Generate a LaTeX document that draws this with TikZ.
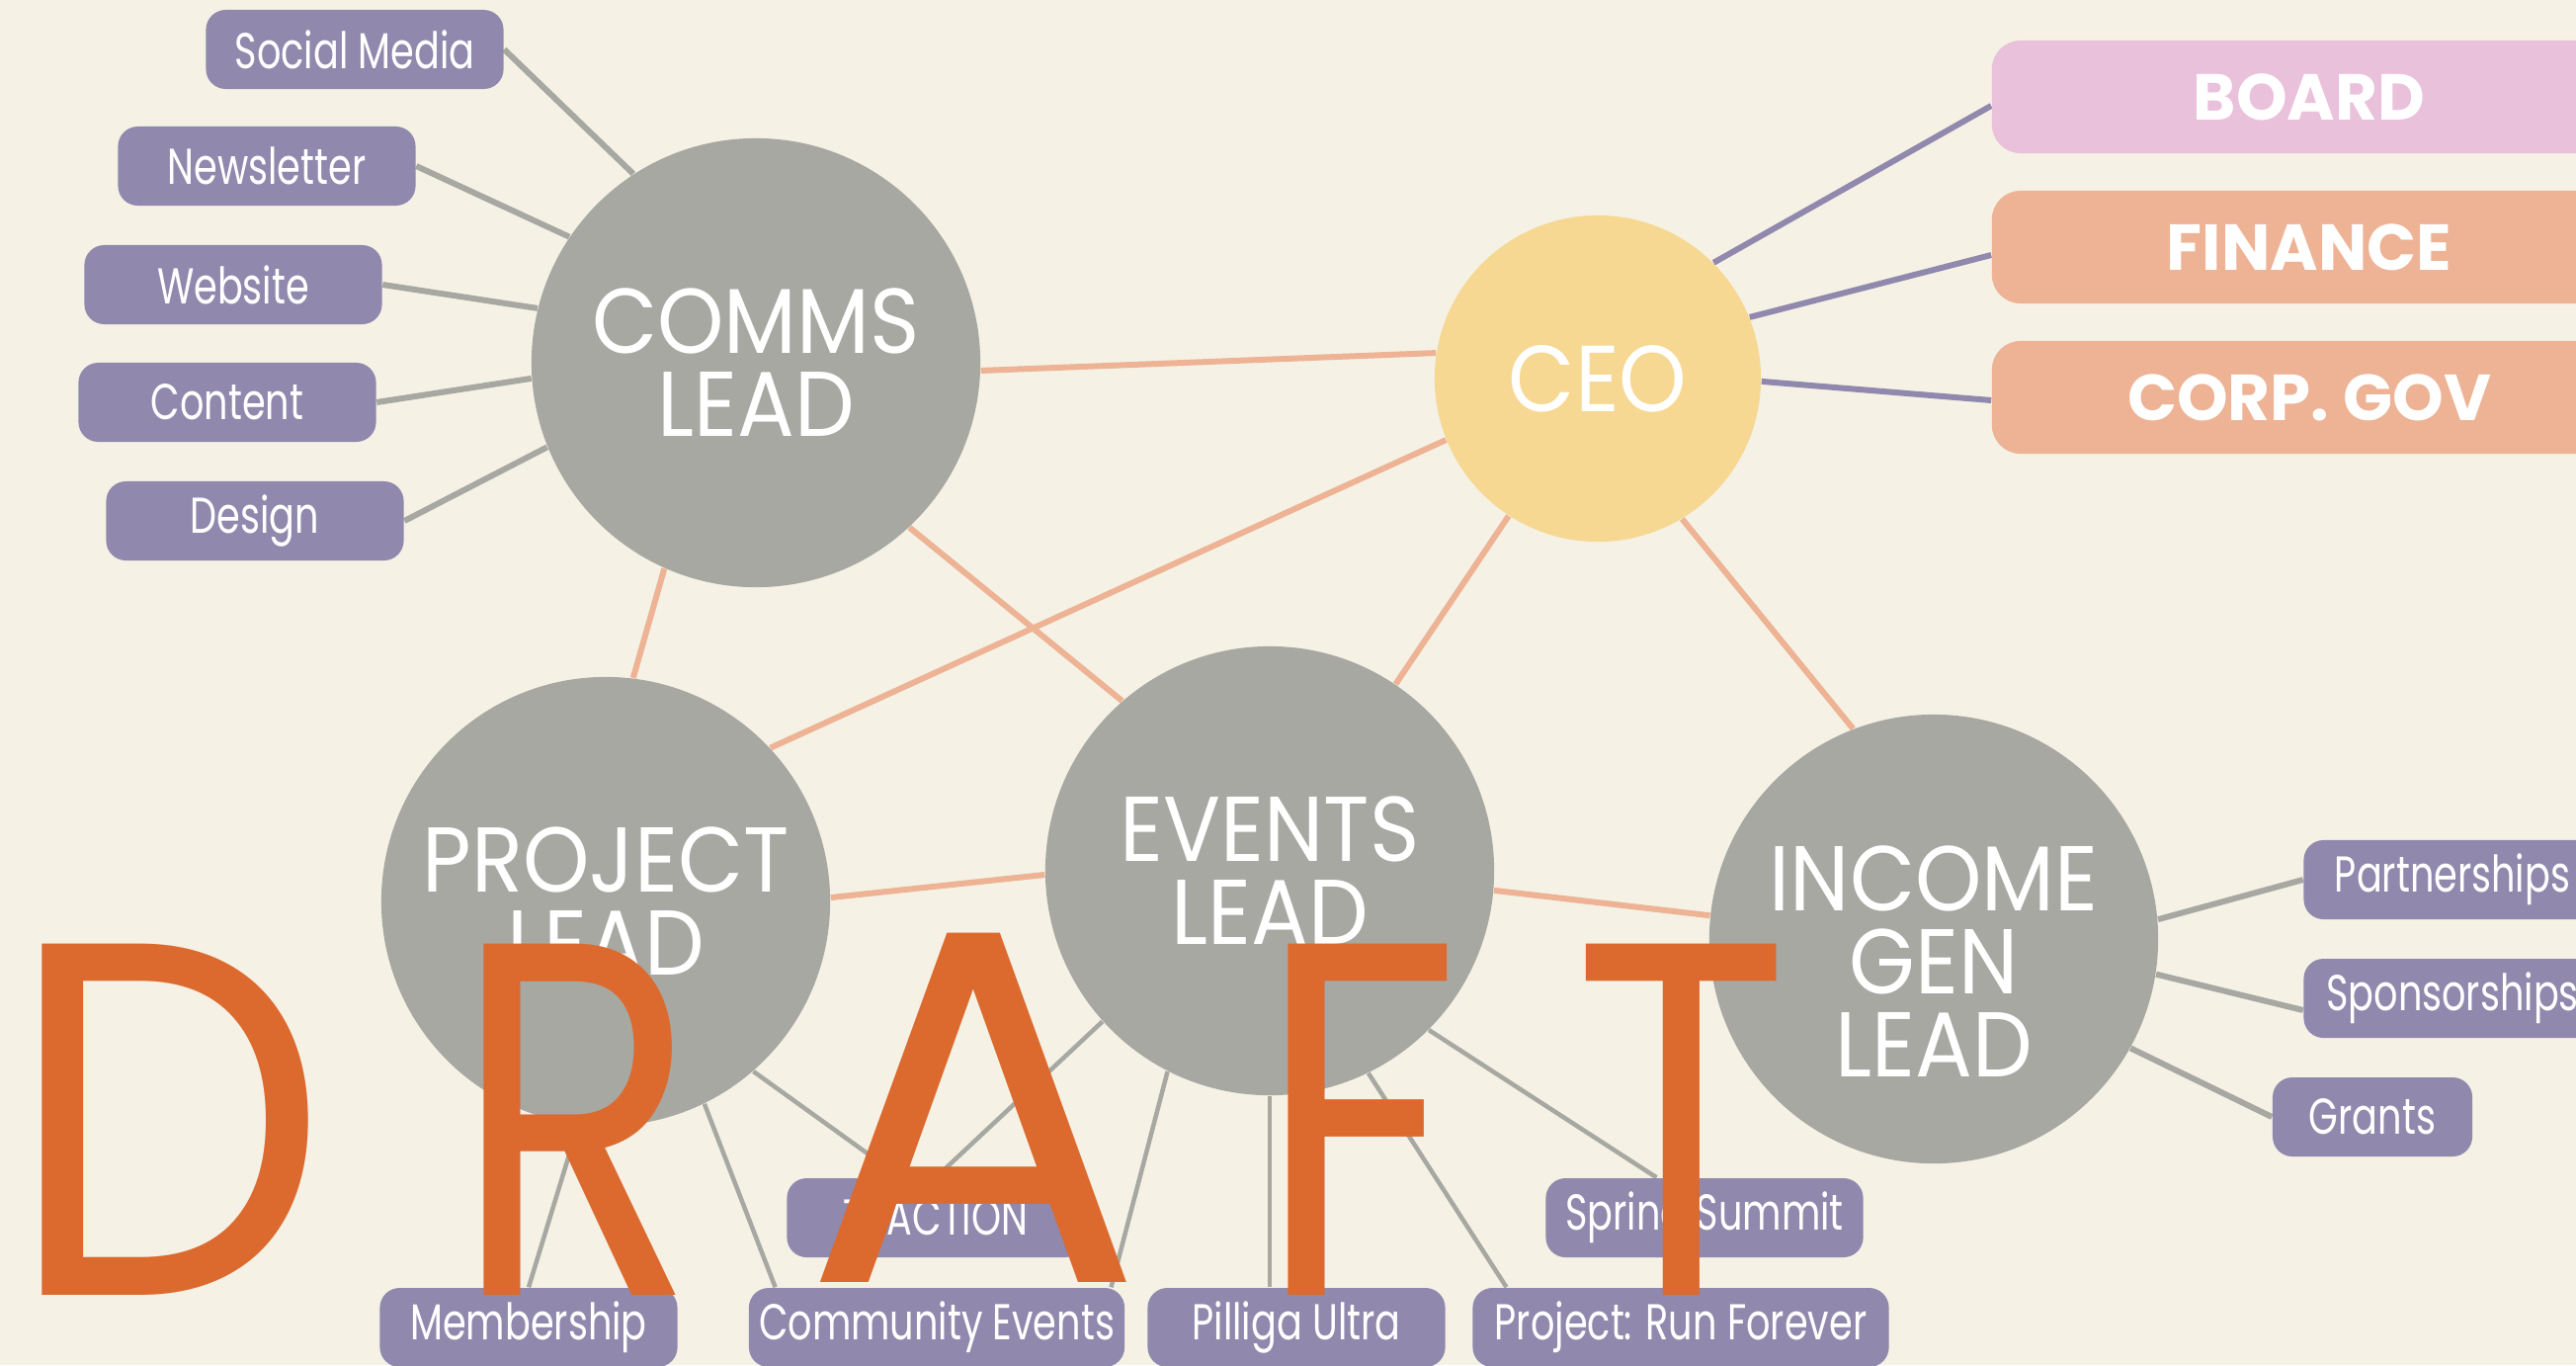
\documentclass[tikz,border=0pt]{standalone}
\usepackage{fontspec}
\setmainfont{Poppins}
\newfontfamily\headfont[FakeStretch=0.92]{Poppins}
\newfontfamily\labelfont[FakeStretch=0.75]{Poppins}
\newfontfamily\draftfont[FakeStretch=0.8]{Poppins}
\newfontfamily\draftroundfont[FakeStretch=0.9]{Poppins}
\usetikzlibrary{positioning,backgrounds}

\definecolor{cream}{HTML}{F5F1E5}
\definecolor{leadgray}{HTML}{A7A8A2}
\definecolor{ceoyellow}{HTML}{F6D892}
\definecolor{taskpurple}{HTML}{9089AD}
\definecolor{boardpink}{HTML}{E9C1DB}
\definecolor{salmon}{HTML}{EDB394}
\definecolor{draftorange}{HTML}{DC6A2F}

\begin{document}
\begin{tikzpicture}[
  x=0.01cm, y=-0.01cm,
  lead/.style={circle, fill=leadgray, minimum size=4.54cm, inner sep=0pt,
               text=white, align=center,
               font=\headfont\fontsize{26.5}{23.9}\selectfont},
  ceobox/.style={circle, fill=ceoyellow, minimum size=3.30cm, inner sep=0pt,
                 text=white, font=\headfont\fontsize{27}{27}\selectfont},
  task/.style={rounded corners=0.2cm, fill=taskpurple, text=white,
               minimum width=3.01cm, minimum height=0.80cm, inner sep=0.08cm,
               font=\labelfont\fontsize{14.5}{16}\selectfont},
  gov/.style={rounded corners=0.29cm, text=white, minimum width=6.42cm,
              minimum height=1.14cm, font=\bfseries\fontsize{18.7}{20}\selectfont},
  leadlink/.style={line width=1.7pt, salmon},
  govlink/.style={line width=1.7pt, taskpurple},
  spoke/.style={line width=1.7pt, leadgray},
  twig/.style={line width=1.28pt, leadgray},
  draft/.style={text=draftorange, inner sep=0pt, anchor=base,
                font=\draftfont\fontsize{145}{145}\selectfont},
]
  \useasboundingbox (0,0) rectangle (2607,1381);

  % leads and ceo
  \node[lead] (comms) at (765,367) {COMMS\\LEAD};
  \node[ceobox] (ceo) at (1617,383) {CEO};
  \node[lead] (project) at (613,912) {PROJECT\\LEAD};
  \node[lead] (events) at (1285,881) {EVENTS\\LEAD};
  \node[lead] (income) at (1957,950) {\rule{0pt}{1.11cm}INCOME\\GEN\\LEAD};

  % governance
  \node[gov, fill=boardpink] (board) at (2337,98) {BOARD};
  \node[gov, fill=salmon] (finance) at (2337,250) {FINANCE};
  \node[gov, fill=salmon] (corpgov) at (2337,402) {CORP. GOV};

  % comms team
  \node[task] (social) at (359,50) {Social Media};
  \node[task] (newsletter) at (270,168) {Newsletter};
  \node[task] (website) at (236,288) {Website};
  \node[task] (content) at (230,407) {Content};
  \node[task] (design) at (258,527) {Design};

  % income team
  \node[task] (partner) at (2482,890) {Partnerships};
  \node[task] (sponsor) at (2482,1010) {Sponsorships};
  \node[task, minimum width=2.02cm] (grants) at (2401,1130) {Grants};

  % projects and events
  \node[task] (traction) at (947,1232) {TRACTION};
  \node[task, minimum width=3.21cm] (summit) at (1725,1232) {Spring Summit};
  \node[task] (member) at (535,1343) {Membership};
  \node[task, minimum width=3.80cm] (commev) at (948,1343) {Community Events};
  \node[task] (pilliga) at (1312,1343) {Pilliga Ultra};
  \node[task, minimum width=4.21cm] (runforever) at (1701,1343) {Project: Run Forever};

  \begin{pgfonlayer}{background}
    \fill[cream] (0,0) rectangle (2607,1381);
    % between leads
    \draw[leadlink] (comms.-2) -- (ceo.171);
    \draw[leadlink] (comms.-47.5) -- (events.131.7);
    \draw[leadlink] (comms.246.5) -- (project.83.9);
    \draw[leadlink] (ceo.202.3) -- (project.43);
    \draw[leadlink] (ceo.237.2) -- (events.56.1);
    \draw[leadlink] (ceo.-59.4) -- (income.111.8);
    \draw[leadlink] (project.1.5) -- (events.181.3);
    \draw[leadlink] (events.-5) -- (income.174.4);
    % ceo to governance
    \draw[govlink] (ceo.45.5) -- ([yshift=-0.09cm]board.west);
    \draw[govlink] (ceo.22.5) -- ([yshift=-0.08cm]finance.west);
    \draw[govlink] (ceo.-1.7) -- ([yshift=-0.03cm]corpgov.west);
    % comms team
    \draw[spoke] (social.east) -- (comms.123.2);
    \draw[spoke] (newsletter.east) -- (comms.146.7);
    \draw[spoke] (website.east) -- (comms.166);
    \draw[spoke] (content.east) -- (comms.184.6);
    \draw[spoke] (design.east) -- (comms.202.2);
    % income team
    \draw[spoke] (income.5.8) -- (partner.west);
    \draw[spoke] (income.-9.5) -- ([yshift=-0.12cm]sponsor.west);
    \draw[spoke] (income.-29.5) -- (grants.west);
    % projects and events
    \draw[twig] (project.263.5) -- (member.north);
    \draw[twig] (project.-64.8) -- (commev.166.5);
    \draw[twig] (project.-49.5) -- (traction.131);
    \draw[twig] (events.222) -- (traction.north);
    \draw[twig] (events.243) -- (commev.13.5);
    \draw[twig] (events.south) -- (events.south |- pilliga.north);
    \draw[twig] (events.-64.3) -- (runforever.167);
    \draw[twig] (events.-45.9) -- (summit.140.8);
  \end{pgfonlayer}

  % watermark
  \node[draft, font=\draftroundfont\fontsize{145}{145}\selectfont] (draftd) at (170,1310) {D};
  \node[draft] (draftr) at (583,1310) {R};
  \node[draft, font=\rmfamily\fontsize{145}{145}\selectfont] (drafta) at (985,1297) {A};
  \node[draft] (draftf) at (1375,1310) {F};
  \node[draft] (draftt) at (1702,1310) {T};
\end{tikzpicture}
\end{document}
